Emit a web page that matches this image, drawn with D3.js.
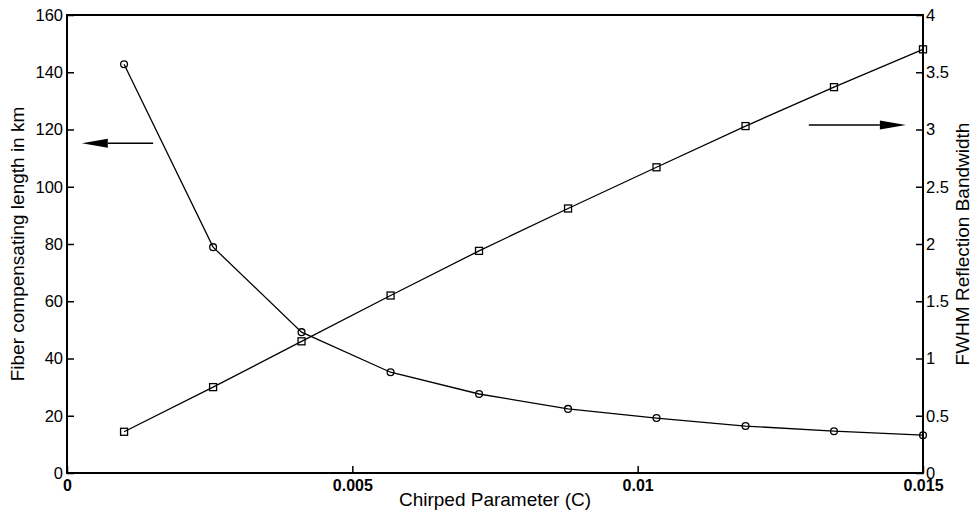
<!DOCTYPE html>
<html>
<head>
<meta charset="utf-8">
<script src="https://cdn.jsdelivr.net/npm/d3@7/dist/d3.min.js"></script>
<style>
  body { margin: 0; background: #fff; }
  svg text { font-family: "Liberation Sans", Arial, Helvetica, sans-serif; fill: #000; }
</style>
</head>
<body>
<div id="chart"></div>
<script>
// chirp values (x) and the two measured curves
var chirp = [0.001, 0.00256, 0.00411, 0.00567, 0.00722, 0.00878, 0.01033, 0.01189, 0.01344, 0.015];
var fiberLength = [142.8, 78.9, 49.2, 35.2, 27.6, 22.4, 19.2, 16.4, 14.6, 13.2];   // km, left axis
var fwhm = [0.36, 0.75, 1.15, 1.55, 1.94, 2.31, 2.67, 3.03, 3.37, 3.70];          // right axis

var xTicks = [0, 0.005, 0.01, 0.015];
var yLeftTicks = [0, 20, 40, 60, 80, 100, 120, 140, 160];
var yRightTicks = [0, 0.5, 1, 1.5, 2, 2.5, 3, 3.5, 4];

// annotation arrows, in data units
var arrowLeft = {x0: 0.00151, x1: 0.00026, y: 115.2};
var arrowRight = {x0: 0.0130, x1: 0.01470, y: 3.04};

var W = 974, H = 525;
var margin = {top: 15, right: 51, bottom: 52, left: 67};
var width = W - margin.left - margin.right;
var height = H - margin.top - margin.bottom;

var svg = d3.select("#chart").append("svg")
  .attr("width", W).attr("height", H);
var g = svg.append("g").attr("transform", "translate(" + margin.left + "," + margin.top + ")");

var x = d3.scaleLinear().domain([0, 0.015]).range([0, width]);
var yL = d3.scaleLinear().domain([0, 160]).range([height, 0]);
var yR = d3.scaleLinear().domain([0, 4]).range([height, 0]);

var fmt = d3.format("~g");
var TICK = 7;

// ---------------- axes ----------------
var gx = g.append("g").attr("transform", "translate(0," + height + ")")
  .call(d3.axisBottom(x).tickValues(xTicks).tickFormat(fmt).tickSizeInner(-TICK).tickSizeOuter(0).tickPadding(7));
gx.selectAll("text").style("font-size", "16px").style("font-weight", "bold");

var gyl = g.append("g")
  .call(d3.axisLeft(yL).tickValues(yLeftTicks).tickFormat(fmt).tickSizeInner(-TICK).tickSizeOuter(0).tickPadding(4));
gyl.selectAll("text").style("font-size", "16.5px");

var gyr = g.append("g").attr("transform", "translate(" + width + ",0)")
  .call(d3.axisRight(yR).tickValues(yRightTicks).tickFormat(fmt).tickSizeInner(-TICK).tickSizeOuter(0).tickPadding(3));
gyr.selectAll("text").style("font-size", "16.5px");

[gx, gyl, gyr].forEach(function(a){
  a.select(".domain").remove();
  a.selectAll("line").attr("stroke", "#000").attr("stroke-width", 1.5);
});

// frame
g.append("rect")
  .attr("x", 0).attr("y", 0).attr("width", width).attr("height", height)
  .attr("fill", "none").attr("stroke", "#000").attr("stroke-width", 2);

// ---------------- labels ----------------
g.append("text")
  .text("Chirped Parameter (C)")
  .attr("x", width / 2).attr("y", height + 33)
  .style("text-anchor", "middle").style("font-size", "19px");

g.append("text")
  .text("Fiber compensating length in km")
  .attr("transform", "translate(" + (-margin.left + 24) + "," + (height / 2) + ") rotate(-90)")
  .style("text-anchor", "middle").style("font-size", "19px");

g.append("text")
  .text("FWHM Reflection Bandwidth")
  .attr("transform", "translate(" + (width + 46) + "," + (height / 2) + ") rotate(-90)")
  .style("text-anchor", "middle").style("font-size", "19px");

// ---------------- curves ----------------
var lineL = d3.line().x(function(d, i){ return x(chirp[i]); }).y(function(d){ return yL(d); });
var lineR = d3.line().x(function(d, i){ return x(chirp[i]); }).y(function(d){ return yR(d); });

g.append("path").datum(fiberLength).attr("d", lineL)
  .attr("fill", "none").attr("stroke", "#000").attr("stroke-width", 1.3);
g.append("path").datum(fwhm).attr("d", lineR)
  .attr("fill", "none").attr("stroke", "#000").attr("stroke-width", 1.3);

g.selectAll("circle.mk").data(fiberLength).enter().append("circle")
  .attr("class", "mk")
  .attr("cx", function(d, i){ return x(chirp[i]); })
  .attr("cy", function(d){ return yL(d); })
  .attr("r", 3.4)
  .attr("fill", "none").attr("stroke", "#000").attr("stroke-width", 1.3);

var S = 7;
g.selectAll("rect.mk").data(fwhm).enter().append("rect")
  .attr("class", "mk")
  .attr("x", function(d, i){ return x(chirp[i]) - S / 2; })
  .attr("y", function(d){ return yR(d) - S / 2; })
  .attr("width", S).attr("height", S)
  .attr("fill", "none").attr("stroke", "#000").attr("stroke-width", 1.3);

// ---------------- arrows ----------------
function _drawArrow(svg, x0, x1, y){
  var dir = x1 > x0 ? 1 : -1;
  var headLen = 26, headHalf = 4.5;
  svg.append("line")
    .attr("x1", x0).attr("y1", y).attr("x2", x1 - dir * headLen).attr("y2", y)
    .attr("stroke", "#000").attr("stroke-width", 1.5);
  svg.append("path")
    .attr("d", "M" + x1 + "," + y + "L" + (x1 - dir * headLen) + "," + (y - headHalf) +
               "L" + (x1 - dir * headLen) + "," + (y + headHalf) + "Z")
    .attr("fill", "#000");
}
_drawArrow(g, x(arrowLeft.x0), x(arrowLeft.x1), yL(arrowLeft.y));
_drawArrow(g, x(arrowRight.x0), x(arrowRight.x1), yR(arrowRight.y));
</script>
</body>
</html>
